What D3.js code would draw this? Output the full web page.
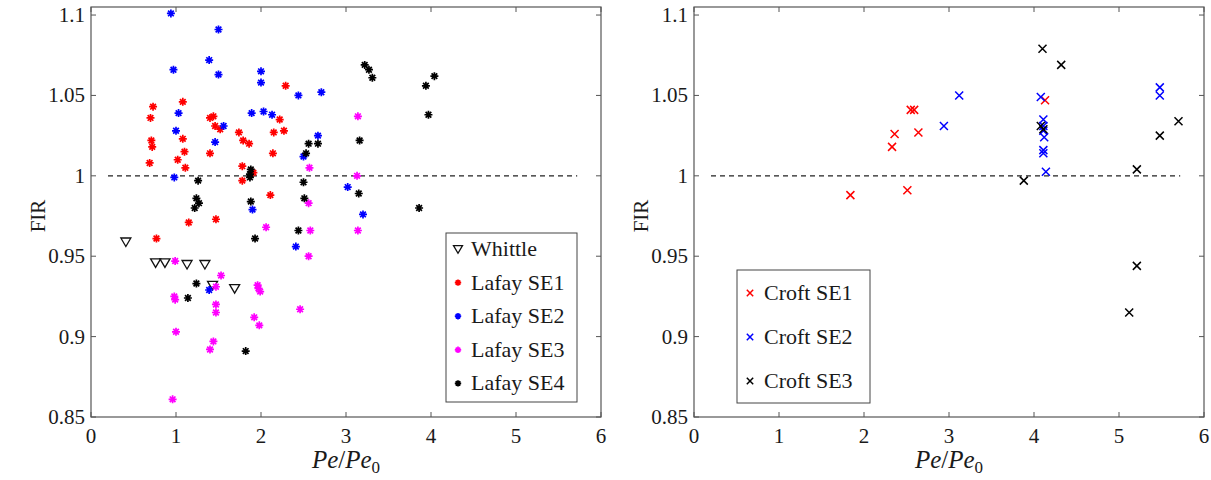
<!DOCTYPE html>
<html>
<head>
<meta charset="utf-8">
<script src="https://cdn.jsdelivr.net/npm/d3@7"></script>
<style>
  body { margin: 0; background: #fff; }
  svg { display: block; }
  svg text { font-family: "Liberation Serif", "Times New Roman", serif !important; }
</style>
</head>
<body>
<svg width="1211" height="480"></svg>
<script>
// ---- data ----
const xTicks = [0, 1, 2, 3, 4, 5, 6];
const yTicks = [0.85, 0.9, 0.95, 1, 1.05, 1.1];
const yTickLabels = ["0.85", "0.9", "0.95", "1", "1.05", "1.1"];

const whittleX = [0.41, 0.76, 0.87, 1.13, 1.34, 1.43, 1.69];
const whittleY = [0.959, 0.946, 0.946, 0.945, 0.945, 0.932, 0.930];

const lafaySE1X = [0.73, 1.08, 0.70, 1.40, 1.44, 1.46, 1.52, 0.71, 0.72, 1.08, 1.10, 1.02, 1.11, 0.69, 1.40, 1.74, 1.79, 1.86, 2.22, 2.15, 2.27, 2.14, 1.78, 1.91, 2.29, 1.78, 2.11, 1.15, 1.47, 0.77];
const lafaySE1Y = [1.043, 1.046, 1.036, 1.036, 1.037, 1.031, 1.029, 1.022, 1.018, 1.023, 1.015, 1.010, 1.005, 1.008, 1.014, 1.027, 1.022, 1.020, 1.035, 1.027, 1.028, 1.014, 1.006, 1.002, 1.056, 0.997, 0.988, 0.971, 0.973, 0.961];

const lafaySE2X = [0.94, 1.50, 1.39, 1.50, 0.97, 2.00, 2.00, 1.03, 1.89, 2.03, 2.13, 1.56, 1.00, 1.46, 0.98, 2.44, 2.71, 2.67, 2.50, 1.90, 1.39, 3.02, 3.20, 2.41];
const lafaySE2Y = [1.101, 1.091, 1.072, 1.063, 1.066, 1.065, 1.058, 1.039, 1.039, 1.040, 1.038, 1.031, 1.028, 1.021, 0.999, 1.050, 1.052, 1.025, 1.012, 0.979, 0.929, 0.993, 0.976, 0.956];

const lafaySE3X = [3.14, 2.57, 3.13, 0.99, 1.53, 1.47, 0.98, 0.99, 1.47, 1.47, 1.96, 1.97, 1.99, 2.06, 1.92, 1.98, 1.00, 1.44, 1.40, 0.96, 2.56, 2.58, 3.14, 2.56, 2.46];
const lafaySE3Y = [1.037, 1.005, 1.000, 0.947, 0.938, 0.931, 0.925, 0.923, 0.920, 0.915, 0.932, 0.930, 0.928, 0.968, 0.912, 0.907, 0.903, 0.897, 0.892, 0.861, 0.983, 0.966, 0.966, 0.950, 0.917];

const lafaySE4X = [3.22, 3.27, 3.31, 3.94, 4.04, 3.97, 3.16, 2.56, 2.67, 2.53, 1.88, 1.87, 1.87, 1.26, 1.24, 1.27, 1.22, 1.88, 1.93, 1.24, 1.14, 1.82, 2.50, 3.15, 2.51, 2.44, 3.86];
const lafaySE4Y = [1.069, 1.066, 1.061, 1.056, 1.062, 1.038, 1.022, 1.020, 1.020, 1.014, 1.004, 1.001, 0.999, 0.997, 0.986, 0.983, 0.980, 0.984, 0.961, 0.933, 0.924, 0.891, 0.996, 0.989, 0.986, 0.966, 0.980];

const croftSE1X = [2.55, 2.59, 2.36, 2.33, 2.64, 1.84, 2.51, 4.13];
const croftSE1Y = [1.041, 1.041, 1.026, 1.018, 1.027, 0.988, 0.991, 1.047];

const croftSE2X = [3.12, 2.94, 4.08, 4.11, 4.11, 4.11, 4.12, 4.11, 4.11, 4.14, 5.48, 5.48];
const croftSE2Y = [1.050, 1.031, 1.049, 1.035, 1.031, 1.028, 1.024, 1.016, 1.014, 1.0025, 1.055, 1.050];

const croftSE3X = [4.10, 4.32, 4.08, 4.11, 3.88, 5.21, 5.48, 5.70, 5.21, 5.12];
const croftSE3Y = [1.079, 1.069, 1.031, 1.029, 0.997, 1.004, 1.025, 1.034, 0.944, 0.915];

const refLineX = [0.2, 5.72];
const refLineY = [1, 1];

// ---- drawing ----
const svg = d3.select("svg");
const serif = "'Liberation Serif', 'DejaVu Serif', serif";

function markerPath(type, r) {
    if (type === "star") {
        const a = r * 0.707;
        return `M${-r},0L${r},0M0,${-r}L0,${r}M${-a},${-a}L${a},${a}M${-a},${a}L${a},${-a}`;
    }
    if (type === "cross") {
        return `M${-r},${-r}L${r},${r}M${-r},${r}L${r},${-r}`;
    }
    // downward triangle
    return `M${-r},${-r * 0.75}L${r},${-r * 0.75}L0,${r * 0.95}Z`;
}

function label(sel, size) {
    return sel.style("font-family", serif).attr("font-size", size).attr("fill", "#1a1a1a");
}

function drawPanel(opts) {
    const g = svg.append("g");
    const x = d3.scaleLinear().domain([0, 6]).range([opts.left, opts.right]);
    const y = d3.scaleLinear().domain([0.85, 1.105]).range([417, 7]);
    const axisColor = "#555";
    const tl = 5;

    // frame
    g.append("rect")
        .attr("x", opts.left).attr("y", y(1.105))
        .attr("width", opts.right - opts.left).attr("height", y(0.85) - y(1.105))
        .attr("fill", "none").attr("stroke", axisColor).attr("stroke-width", 1.2);

    // ticks (inside, mirrored)
    xTicks.forEach(t => {
        g.append("line").attr("x1", x(t)).attr("x2", x(t)).attr("y1", y(0.85)).attr("y2", y(0.85) - tl)
            .attr("stroke", axisColor);
        g.append("line").attr("x1", x(t)).attr("x2", x(t)).attr("y1", y(1.105)).attr("y2", y(1.105) + tl)
            .attr("stroke", axisColor);
        label(g.append("text"), 21).attr("x", x(t)).attr("y", y(0.85) + 26)
            .attr("text-anchor", "middle").text(t);
    });
    yTicks.forEach((t, i) => {
        g.append("line").attr("x1", opts.left).attr("x2", opts.left + tl).attr("y1", y(t)).attr("y2", y(t))
            .attr("stroke", axisColor);
        g.append("line").attr("x1", opts.right).attr("x2", opts.right - tl).attr("y1", y(t)).attr("y2", y(t))
            .attr("stroke", axisColor);
        label(g.append("text"), 21).attr("x", opts.left - 6).attr("y", y(t) + 7)
            .attr("text-anchor", "end").text(yTickLabels[i]);
    });

    // axis titles
    label(g.append("text"), 21)
        .attr("transform", `translate(${opts.left - 46},${y(0.975)}) rotate(-90)`)
        .attr("text-anchor", "middle").text("FIR");
    const xl = label(g.append("text"), 25).attr("x", (opts.left + opts.right) / 2).attr("y", 468)
        .attr("text-anchor", "middle");
    xl.append("tspan").attr("font-style", "italic").text("Pe");
    xl.append("tspan").text("/");
    xl.append("tspan").attr("font-style", "italic").text("Pe");
    xl.append("tspan").attr("font-size", 17).attr("dy", 5).text("0");

    // reference line
    g.append("line")
        .attr("x1", x(refLineX[0])).attr("x2", x(refLineX[1]))
        .attr("y1", y(refLineY[0])).attr("y2", y(refLineY[1]))
        .attr("stroke", "#222").attr("stroke-width", 1.3).attr("stroke-dasharray", "5,4");

    // series
    opts.series.forEach(s => {
        const pts = s.xs.map((v, i) => [v, s.ys[i]]);
        g.append("g").selectAll("path").data(pts).enter().append("path")
            .attr("transform", d => `translate(${x(d[0])},${y(d[1])})`)
            .attr("d", markerPath(s.type, s.r))
            .attr("fill", "none")
            .attr("stroke", s.color)
            .attr("stroke-width", s.sw);
    });

    // legend
    const L = opts.legend;
    g.append("rect").attr("x", L.x).attr("y", L.y).attr("width", L.w).attr("height", L.h)
        .attr("fill", "#fff").attr("stroke", "#444").attr("stroke-width", 1);
    opts.series.forEach((s, i) => {
        const cy = L.y + L.first + i * L.step;
        g.append("path").attr("transform", `translate(${L.x + L.mx},${cy})`)
            .attr("d", markerPath(s.type, s.type === "tri" ? 4.5 : 3.2))
            .attr("fill", "none").attr("stroke", s.color).attr("stroke-width", s.sw);
        label(g.append("text"), 22).attr("x", L.x + L.tx).attr("y", cy + 7).text(s.name);
    });
}

drawPanel({
    left: 91, right: 601,
    series: [
        {name: "Whittle", xs: whittleX, ys: whittleY, color: "#111", type: "tri", r: 5, sw: 1.3},
        {name: "Lafay SE1", xs: lafaySE1X, ys: lafaySE1Y, color: "#ff0000", type: "star", r: 4, sw: 1.7},
        {name: "Lafay SE2", xs: lafaySE2X, ys: lafaySE2Y, color: "#0000ff", type: "star", r: 4, sw: 1.7},
        {name: "Lafay SE3", xs: lafaySE3X, ys: lafaySE3Y, color: "#ff00ff", type: "star", r: 4, sw: 1.7},
        {name: "Lafay SE4", xs: lafaySE4X, ys: lafaySE4Y, color: "#000000", type: "star", r: 4, sw: 1.7}
    ],
    legend: {x: 446, y: 233, w: 131, h: 169, first: 16, step: 33.6, mx: 12, tx: 25}
});

drawPanel({
    left: 694, right: 1204,
    series: [
        {name: "Croft SE1", xs: croftSE1X, ys: croftSE1Y, color: "#ff0000", type: "cross", r: 4, sw: 1.5},
        {name: "Croft SE2", xs: croftSE2X, ys: croftSE2Y, color: "#0000ff", type: "cross", r: 4, sw: 1.5},
        {name: "Croft SE3", xs: croftSE3X, ys: croftSE3Y, color: "#000000", type: "cross", r: 4, sw: 1.5}
    ],
    legend: {x: 737, y: 270, w: 133, h: 133, first: 23, step: 44, mx: 13, tx: 27}
});
</script>
</body>
</html>
